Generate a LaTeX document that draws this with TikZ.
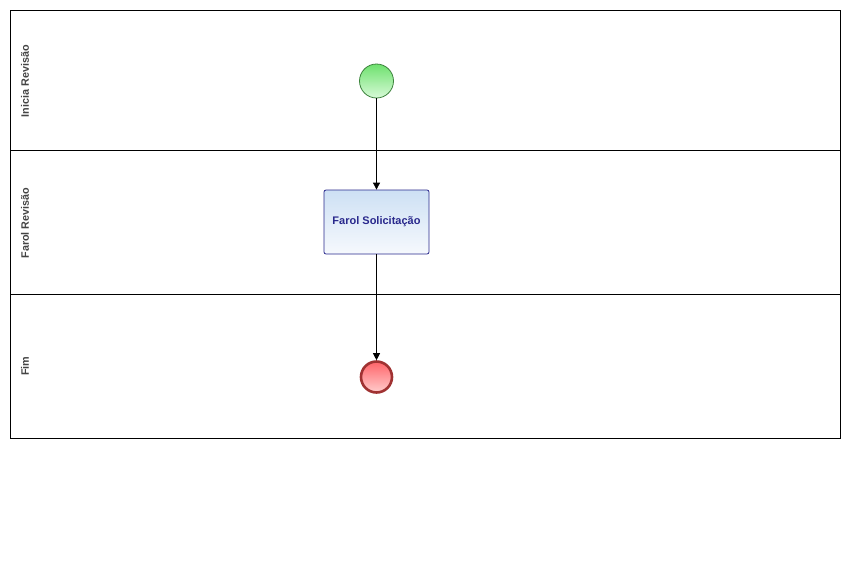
\documentclass[tikz,border=0pt]{standalone}
\usepackage{fontspec}
\setmainfont{Liberation Sans}
\usepackage{xcolor}
\usetikzlibrary{arrows.meta}
\usetikzlibrary{positioning}
\definecolor{LaneGray}{RGB}{68,68,68}
\definecolor{TaskBlue}{RGB}{40,40,140}
\definecolor{TaskTop}{RGB}{205,224,244}
\definecolor{TaskBot}{RGB}{246,249,253}
\definecolor{StartTop}{RGB}{110,225,110}
\definecolor{StartBot}{RGB}{215,250,215}
\definecolor{StartLine}{RGB}{60,130,60}
\definecolor{EndTop}{RGB}{255,100,105}
\definecolor{EndBot}{RGB}{255,205,205}
\definecolor{EndLine}{RGB}{160,50,50}
\tikzset{
	lane/.style={draw=black, line width=1pt},
	lanelab/.style={rotate=90, text=LaneGray, font=\fontsize{10.8}{12}\selectfont\bfseries, inner sep=0pt},
	startev/.style={circle, minimum size=34pt, inner sep=0pt, draw=StartLine, line width=0.8pt,
		top color=StartTop, bottom color=StartBot},
	endev/.style={circle, minimum size=31pt, inner sep=0pt, draw=EndLine, line width=2.6pt,
		top color=EndTop, bottom color=EndBot},
	task/.style={draw=TaskBlue, line width=0.8pt, rounded corners=2pt, minimum width=105pt,
		minimum height=64pt, top color=TaskTop, bottom color=TaskBot, text=TaskBlue,
		font=\fontsize{11}{13}\selectfont\bfseries},
	flow/.style={-{Triangle[length=7pt, width=7pt]}, line width=0.8pt, draw=black}
}
\begin{document}
\begin{tikzpicture}[x=1pt, y=1pt]
	\useasboundingbox (0,0) rectangle (846,-587);
	% pool and lanes
	\draw[lane] (10,-10) rectangle (840,-438);
	\draw[lane] (10,-150) -- (840,-150);
	\draw[lane] (10,-294) -- (840,-294);
	\node[lanelab] (l1) at (25,-81) {Inicia Revisão};
	\node[lanelab] (l2) at (25,-223) {Farol Revisão};
	\node[lanelab] (l3) at (25,-366) {Fim};
	% events and task
	\node[startev] (start) at (376.5,-81) {};
	\node[task] (farol) at (376.5,-222) {Farol Solicitação};
	\node[endev] (fim) at (376.5,-377) {};
	\draw[flow] (start) -- (farol);
	\draw[flow] (farol) -- (fim);
\end{tikzpicture}
\end{document}
